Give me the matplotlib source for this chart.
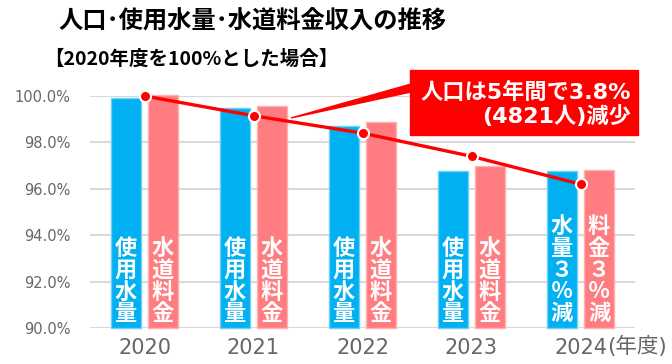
import matplotlib
matplotlib.use('Agg')
import matplotlib.pyplot as plt
from matplotlib.patches import Rectangle, Polygon

plt.rcParams['font.family'] = ['Noto Sans CJK JP', 'DejaVu Sans']
latin = ['DejaVu Sans', 'Noto Sans CJK JP']

years = ['2020', '2021', '2022', '2023', '2024']
water_use = [99.9, 99.5, 98.7, 96.75, 96.75]       # 使用水量
water_fee = [100.05, 99.55, 98.9, 97.0, 96.8]      # 水道料金収入
population = [100.0, 99.15, 98.4, 97.4, 96.2]      # 人口
use_labels = ['使\n用\n水\n量'] * 4 + ['水\n量\n３\n％\n減']
fee_labels = ['水\n道\n料\n金'] * 4 + ['料\n金\n３\n％\n減']
yticks = [90, 92, 94, 96, 98, 100]

W, H = 672, 364
fig = plt.figure(figsize=(W / 100, H / 100), dpi=100)


def px(x, y):
    # pixel position -> figure fraction
    return x / W, 1 - y / H


ax = fig.add_axes([90 / W, 1 - 328 / H, 545 / W, 232 / H])

blue = '#00B0F0'
pink = '#FF7C80'
xs = range(len(years))
bw = 0.28
off = 0.17

ax.bar([x - off for x in xs], [v - 90 for v in water_use], bottom=90, width=bw,
       color=blue, edgecolor='#6FD0F6', linewidth=1, clip_on=False, zorder=2)
ax.bar([x + off for x in xs], [v - 90 for v in water_fee], bottom=90, width=bw,
       color=pink, edgecolor='#FFB0B2', linewidth=1, clip_on=False, zorder=2)

for x, t in zip(xs, use_labels):
    ax.text(x - off, 90.12, t, ha='center', va='bottom', color='white',
            fontsize=16, fontweight='bold', linespacing=0.93, zorder=3)
for x, t in zip(xs, fee_labels):
    ax.text(x + off, 90.12, t, ha='center', va='bottom', color='white',
            fontsize=16, fontweight='bold', linespacing=0.93, zorder=3)

ax.plot(xs, population, color='#FF0000', lw=2.4, marker='o', ms=8,
        mfc='#FF0000', mec='white', mew=1.5, clip_on=False, zorder=4)

ax.set_xlim(-0.5, 4.5)
ax.set_ylim(90, 100)
ax.set_yticks(yticks)
ax.set_yticklabels([f'{v:.1f}%' for v in yticks], family=latin)
ax.set_xticks(list(xs))
ax.set_xticklabels(years, family=latin)
ax.tick_params(axis='y', length=0, pad=14, labelsize=10.5, labelcolor='#666666')
ax.tick_params(axis='x', length=0, pad=7, labelsize=15, labelcolor='#666666')
ax.grid(axis='y', color='#D9D9D9', lw=1.5, zorder=0)
ax.set_axisbelow(True)
for s in ax.spines.values():
    s.set_visible(False)
ax.text(4.245, -0.033, '(年度)', transform=ax.get_xaxis_transform(), ha='left',
        va='top', fontsize=15.5, color='#666666', family=latin)

# titles
fig.text(*px(252, 22), '人口･使用水量･水道料金収入の推移', ha='center', va='center',
         fontsize=17.5, fontweight='bold', color='black')
fig.text(*px(44, 59), '【2020年度を100%とした場合】', ha='left', va='center',
         fontsize=14, fontweight='bold', color='black')

# callout
fig.patches.append(Polygon([px(291, 118), px(411, 84), px(411, 92)], closed=True,
                           transform=fig.transFigure, color='#FF0000', zorder=5))
x0, y0 = px(410, 135)
fig.patches.append(Rectangle((x0, y0), 228 / W, 65 / H, transform=fig.transFigure,
                             color='#FF0000', zorder=5))
fig.text(*px(631, 92), '人口は5年間で3.8%', ha='right', va='center', fontsize=16,
         fontweight='bold', color='white', family=latin, zorder=6)
fig.text(*px(631, 116), '(4821人)減少', ha='right', va='center', fontsize=16,
         fontweight='bold', color='white', family=latin, zorder=6)

fig.savefig('out.png', dpi=100)
